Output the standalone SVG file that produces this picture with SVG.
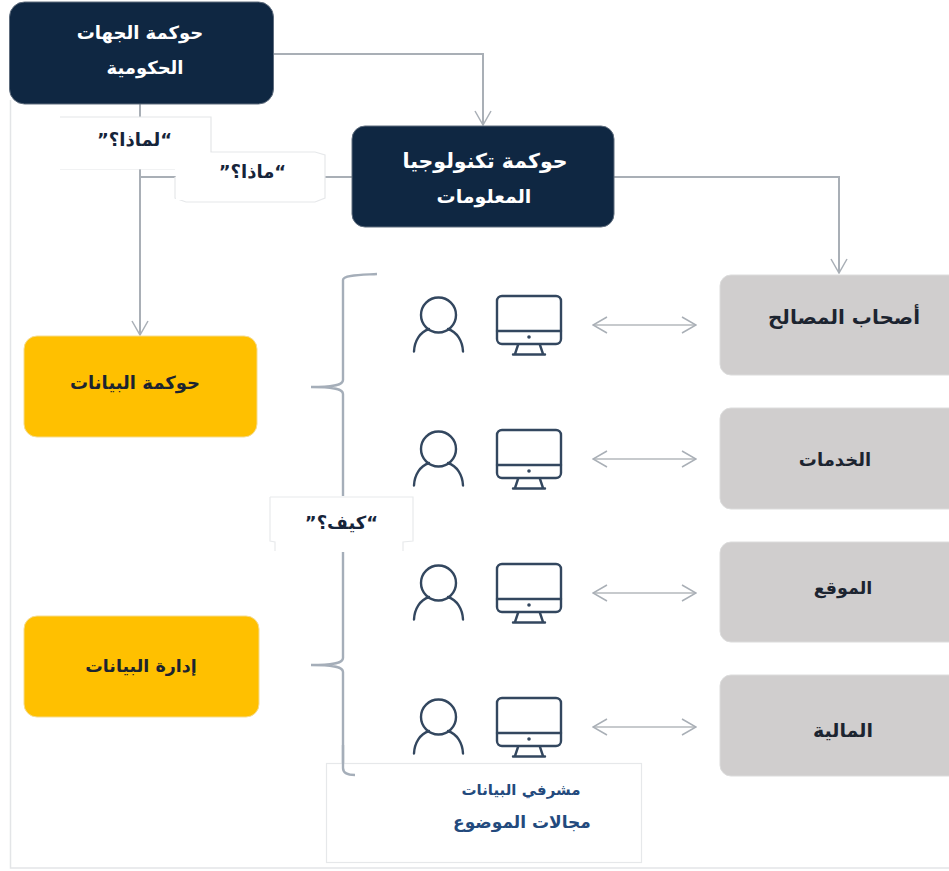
<svg xmlns="http://www.w3.org/2000/svg" width="949" height="871" viewBox="0 0 949 871">
<style>
text{font-family:"DejaVu Sans","Noto Sans",sans-serif;font-weight:700;text-anchor:middle;direction:rtl}
.navy{fill:#0f2742;stroke:#5e6c7d;stroke-width:1}
.navy-t{fill:#fff;font-size:18px}
.gold{fill:#ffc000;stroke:#f5dc90;stroke-width:1}
.gray{fill:#d0cece;stroke:#dcdcdc;stroke-width:1}
.dark-t{fill:#1c2430;font-size:18px}
.conn{fill:none;stroke:#a9afb6;stroke-width:2}
.thin{fill:none;stroke:#b4b8bd;stroke-width:1.6}
.brace{fill:none;stroke:#a5aeb9;stroke-width:2.4}
.icon{fill:none;stroke:#33475f;stroke-width:2.4;stroke-linecap:round;stroke-linejoin:round}
.note{fill:#fff;stroke:#e6e8ea;stroke-width:1.2}
.q{fill:#16243a;font-size:18px}
.sub{fill:#234a7d;font-size:15px}
</style>
<defs>
<marker id="ah" viewBox="0 0 16 20" refX="15" refY="10" markerWidth="16" markerHeight="20" markerUnits="userSpaceOnUse" orient="auto-start-reverse">
<path d="M1 2L15 10L1 18" fill="none" stroke="#a9afb6" stroke-width="1.5"/>
</marker>
<g id="pair">
<circle class="icon" cx="438.500" cy="315" r="17.500"/>
<path class="icon" d="M414 351.500C414.500 341 420 332 429 329M463 351.500C462.500 341 457 332 448 329"/>
<rect class="icon" x="497" y="296" width="64" height="48" rx="5"/>
<path class="icon" d="M497 331H561M518 345L515 354M540 345L543 354M513 354.500H545"/>
<circle cx="529" cy="337" r="1.800" fill="#33475f"/>
</g>
</defs>
<rect width="949" height="871" fill="#fff"/>
<path d="M10.500 100V868H949" fill="none" stroke="#e3e5e7" stroke-width="1.500"/>
<g id="connectors">
<path class="conn" d="M273 54H483V125" marker-end="url(#ah)"/>
<path class="conn" d="M140 104V335" marker-end="url(#ah)"/>
<path class="conn" d="M140 177H352"/>
<path class="conn" d="M614 177H839V273" marker-end="url(#ah)"/>
<path class="thin" d="M593 325H696" marker-start="url(#ah)" marker-end="url(#ah)"/>
<path class="thin" d="M593 459H696" marker-start="url(#ah)" marker-end="url(#ah)"/>
<path class="thin" d="M593 593H696" marker-start="url(#ah)" marker-end="url(#ah)"/>
<path class="thin" d="M593 727H696" marker-start="url(#ah)" marker-end="url(#ah)"/>
</g>
<g id="brace">
<path class="brace" d="M377 274C360 275 343 275 343 280V380C343 385 335 387 311 387C335 387 343 389 343 394V658C343 663 335 665 311 665C335 665 343 667 343 672V768C343 773 348 775 355 775"/>
</g>
<g id="node-gov-entities"><rect class="navy" x="9.500" y="2" width="264" height="102" rx="15"/>
<text class="navy-t" x="140" y="39">حوكمة الجهات</text><text class="navy-t" x="145" y="74">الحكومية</text></g>
<g id="node-it-gov"><rect class="navy" x="352" y="126" width="262" height="101" rx="13"/>
<text class="navy-t" x="485" y="168" style="font-size:20.5px">حوكمة تكنولوجيا</text><text class="navy-t" x="484" y="203" style="font-size:19px">المعلومات</text></g>
<g id="label-why"><path d="M60 117H211V152H60Z" fill="#fff"/><path d="M60 117H211V152M60 169H175" fill="none" stroke="#e4e6e8" stroke-width="1.200"/><rect x="60" y="118" width="120" height="51" fill="#fff"/>
<text class="q" x="134.500" y="146">“لماذا؟”</text></g>
<g id="label-what"><path class="note" d="M175 177V198L186 202H315L325 198V155L315 152H211L211 151"/><path d="M176 153H314V200H176Z" fill="#fff"/>
<text class="q" x="252.500" y="178">“ماذا؟”</text></g>
<g id="node-data-gov"><rect class="gold" x="24" y="336" width="233" height="101" rx="13"/><text class="dark-t" x="135" y="389">حوكمة البيانات</text></g>
<g id="node-data-mgmt"><rect class="gold" x="24" y="616" width="235" height="101" rx="13"/><text class="dark-t" x="141" y="672" style="font-size:17.5px">إدارة البيانات</text></g>
<g id="node-stakeholders"><rect class="gray" x="720" y="275" width="240" height="100" rx="11"/><text class="dark-t" x="844" y="324" style="font-size:20px">أصحاب المصالح</text></g>
<g id="node-services"><rect class="gray" x="720" y="408" width="240" height="101" rx="11"/><text class="dark-t" x="835" y="466">الخدمات</text></g>
<g id="node-location"><rect class="gray" x="720" y="542" width="240" height="100" rx="11"/><text class="dark-t" x="843" y="594" style="font-size:17.5px">الموقع</text></g>
<g id="node-finance"><rect class="gray" x="720" y="675" width="240" height="101" rx="11"/><text class="dark-t" x="843" y="737" style="font-size:19px">المالية</text></g>
<g id="row-1"><use href="#pair"/></g>
<g id="row-2"><use href="#pair" y="134"/></g>
<g id="row-3"><use href="#pair" y="268"/></g>
<g id="row-4"><use href="#pair" y="402"/></g>
<g id="label-how"><path d="M270 496H413V541L403 542V552H275V542L270 541Z" fill="#fff"/><path d="M270 497H413V541L403 542V551M270 497V541L275 542V551" fill="none" stroke="#e8eaec" stroke-width="1.200"/>
<text class="q" x="341.500" y="529">“كيف؟”</text></g>
<g id="node-stewards"><rect class="note" x="326.500" y="763.500" width="315" height="99"/>
<text class="sub" x="521" y="795">مشرفي البيانات</text><text class="sub" x="522" y="828" style="font-size:17px">مجالات الموضوع</text></g>
<path class="brace" d="M343 745V768C343 773 348 775 355 775"/>
</svg>
